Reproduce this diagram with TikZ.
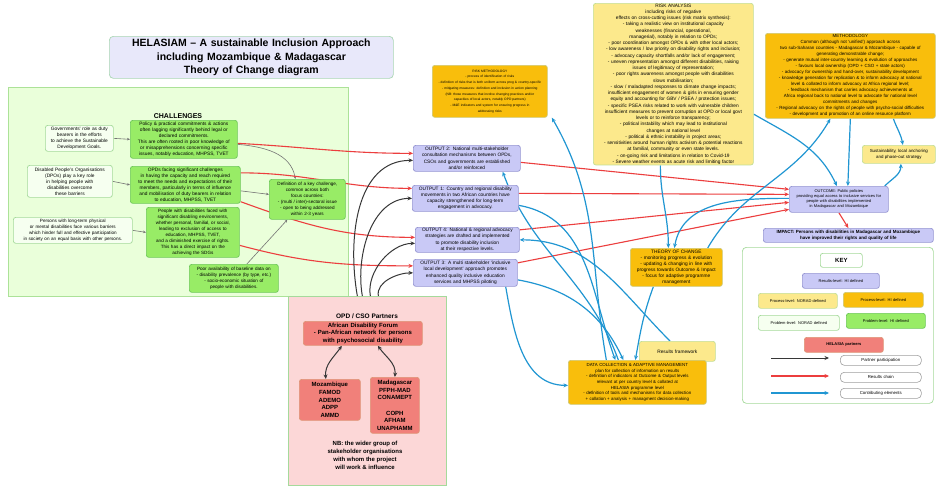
\documentclass[tikz,border=0pt]{standalone}
\usepackage{fontspec}
\setmainfont{Liberation Sans}
\usetikzlibrary{arrows.meta,calc}
\pgfdeclarelayer{bglayer}
\pgfdeclarelayer{lines}
\pgfsetlayers{bglayer,lines,main}
\definecolor{lavF}{RGB}{201,201,246}
\definecolor{lavD}{RGB}{150,150,210}
\definecolor{orgF}{RGB}{249,190,12}
\definecolor{orgD}{RGB}{205,200,120}
\definecolor{ylwF}{RGB}{252,233,140}
\definecolor{ylwD}{RGB}{195,222,150}
\definecolor{grnF}{RGB}{152,236,102}
\definecolor{grnD}{RGB}{110,200,90}
\definecolor{whtF}{RGB}{246,255,240}
\definecolor{whtD}{RGB}{165,218,155}
\definecolor{chF}{RGB}{234,255,218}
\definecolor{chD}{RGB}{172,226,152}
\definecolor{pkF}{RGB}{252,215,215}
\definecolor{redF}{RGB}{241,128,122}
\definecolor{redD}{RGB}{222,150,120}
\definecolor{ttlF}{RGB}{232,232,250}
\definecolor{ttlD}{RGB}{170,215,180}
\definecolor{redC}{RGB}{236,62,62}
\definecolor{bluC}{RGB}{32,150,210}
\definecolor{blkC}{RGB}{55,55,55}
\definecolor{gryC}{RGB}{115,115,115}
\newcommand\fs[2]{\fontsize{#1}{#2}\selectfont}
\newcommand\bx[7]{%
  \pgfmathsetmacro\bxw{#4-#2}%
  \pgfmathsetmacro\bxh{#5-#3}%
  \pgfmathsetmacro\bxt{#4-#2-3}%
  \node[#6,anchor=north west,minimum width=\bxw pt,minimum height=\bxh pt,text width=\bxt pt,inner xsep=1.5pt,inner ysep=0.5pt,align=center] (#1) at (#2,#3) {#7};}
\tikzset{
  base/.style={draw,rounded corners=2.5pt,line width=0.7pt},
  lav/.style={base,fill=lavF,draw=lavD},
  org/.style={base,fill=orgF,draw=orgD},
  ylw/.style={base,fill=ylwF,draw=ylwD},
  grn/.style={base,fill=grnF,draw=grnD},
  wht/.style={base,fill=whtF,draw=whtD},
  rbx/.style={base,fill=redF,draw=redD},
  ttl/.style={base,fill=ttlF,draw=ttlD,rounded corners=4pt},
  pill/.style={draw=gray!75,fill=white,line width=0.6pt,rounded corners=4pt},
  tip/.style={-{Stealth[length=4.5pt,width=4pt]}},
  redc/.style={draw=redC,line width=1.1pt,tip},
  bluec/.style={draw=bluC,line width=1.2pt,tip},
  blkc/.style={draw=blkC,line width=1pt,tip},
  dblc/.style={draw=blkC,line width=1pt,{Stealth[length=4.5pt,width=4pt]}-{Stealth[length=4.5pt,width=4pt]}},
  gryc/.style={draw=gryC,line width=0.6pt,-{Stealth[length=3pt,width=2.5pt]}},
}
\begin{document}
\begin{tikzpicture}[x=1pt,y=-1pt]
\useasboundingbox (0,0) rectangle (937,488);
% backgrounds
\begin{pgfonlayer}{bglayer}
\fill[white] (0,0) rectangle (937,488);
\node[draw=chD,fill=chF,line width=0.7pt,anchor=north west,minimum width=340pt,minimum height=209pt] (chbg) at (8,87) {};
\node[draw=whtD,fill=pkF,line width=0.7pt,anchor=north west,minimum width=158pt,minimum height=189pt] (opd) at (288,296) {};
\node[draw=whtD,fill=white,line width=0.7pt,rounded corners=4pt,anchor=north west,minimum width=191pt,minimum height=156pt] (key) at (742,247) {};
\end{pgfonlayer}

% title
\bx{title}{109}{36}{393}{78}{ttl,font=\bfseries\fs{10.5}{13.5}}{HELASIAM -- A sustainable Inclusion Approach\\including Mozambique \& Madagascar\\Theory of Change diagram}

% challenges
\node[font=\bfseries\fs{7}{8}] (chl) at (178,116) {CHALLENGES};
\bx{gov}{45}{125}{113}{151}{wht,font=\fs{4.8}{6}}{Governments' role as duty\\bearers in the efforts\\to achieve the Sustainable\\Development Goals.}
\bx{dpo}{27}{165}{112}{197}{wht,font=\fs{4.8}{6}}{Disabled People's Organisations\\(DPOs) play a key role\\in helping people with\\disabilities overcome\\these barriers}
\bx{pers}{13}{217}{132}{243}{wht,font=\fs{4.6}{6}}{Persons with long-term physical\\or mental disabilities face various barriers\\which hinder full and effective participation\\in society on an equal basis with other persons.}
\bx{policy}{130}{120}{237}{158}{grn,font=\fs{4.8}{6}}{Policy \& practical commitments \& actions\\often lagging significantly behind legal or\\declared commitments.\\This are often rooted in poor knowledge of\\or misapprehensions concerning specific\\issues, notably education, MHPSS, TVET}
\bx{opds}{130}{166}{240}{203}{grn,font=\fs{4.8}{6}}{OPDs facing significant challenges\\in having the capacity and reach required\\to meet the needs and expectations of their\\members, particularly in terms of influence\\and mobilisation of duty bearers in relation\\to education, MHPSS, TVET}
\bx{people}{146}{207}{239}{257}{grn,font=\fs{4.6}{6}}{People with disabilities faced with\\significant disabling environments,\\whether personal, familial, or social,\\leading to exclusion of access to\\education, MHPSS, TVET,\\and a diminished exercise of rights.\\This has a direct impact on the\\achieving the SDGs}
\bx{poor}{189}{264}{278}{292}{grn,font=\fs{4.6}{6}}{Poor availability of baseline data on\\- disability prevalence (by type, etc.)\\- socio-economic situation of\\people with disabilities.}
\bx{defn}{269}{179}{345}{219}{grn,font=\fs{4.6}{6}}{Definition of a key challenge,\\common across both\\focus countries:\\- (multi / inter)-sectoral issue\\- open to being addressed\\within 2-3 years}

% outputs
\bx{O2}{413}{145}{520}{171}{lav,font=\fs{4.8}{6.2}}{OUTPUT 2: National multi-stakeholder\\consultation mechanisms between OPDs,\\CSOs and governments are established\\and/or reinforced}
\bx{O1}{412}{185}{518}{211}{lav,font=\fs{4.8}{6.2}}{OUTPUT 1: Country and regional disability\\movements in two African countries have\\capacity strengthened for long-term\\engagement in advocacy.}
\bx{O4}{415}{227}{519}{252}{lav,font=\fs{4.8}{6.2}}{OUTPUT 4: National \& regional advocacy\\strategies are drafted and implemented\\to promote disability inclusion\\at their respective levels.}
\bx{O3}{413}{259}{517}{286}{lav,font=\fs{4.8}{6.2}}{OUTPUT 3: A multi stakeholder `inclusive\\local development' approach promotes\\enhanced quality inclusive education\\services and MHPSS piloting}

% OPD partners
\node[font=\bfseries\fs{6.5}{8}] (opdl) at (367,316) {OPD / CSO Partners};
\bx{adf}{303}{321}{422}{345}{rbx,font=\bfseries\fs{6}{7.5}}{African Disability Forum\\- Pan-African network for persons\\with psychosocial disability}
\bx{moz}{299}{379}{360}{420}{rbx,font=\bfseries\fs{6}{7.7}}{Mozambique\\FAMOD\\ADEMO\\ADPP\\AMMD}
\bx{mad}{370}{377}{419}{433}{rbx,font=\bfseries\fs{6}{7.7}}{Madagascar\\PFPH-MAD\\CONAMEPT\\[7.7pt]COPH\\AFHAM\\UNAPHAMM}
\node[font=\bfseries\fs{6}{8},align=center] (nb) at (365,455) {NB: the wider group of\\stakeholder organisations\\with whom the project\\will work \& influence};

% process boxes
\bx{RM}{432}{65}{547}{117}{org,font=\fs{3.3}{5.7}}{RISK METHODOLOGY\\- process of identification of risks\\- definition of risks that is both uniform across prog \& country-specific\\- mitigating measures: definition and inclusion in action planning\\(NB: those measures that involve changing practices and/or\\capacities of local actors, notably OPD partners)\\- M\&E indicators and system for ensuring progress in\\addressing risks}
\bx{RA}{593}{3}{753}{162}{ylw,font=\fs{4.8}{6.25}}{RISK ANALYSIS\\including risks of negative\\effects on cross-cutting issues (risk matrix synthesis):\\- taking a realistic view on institutional capacity\\weaknesses (financial, operational,\\managerial), notably in relation to OPDs;\\- poor coordination amongst OPDs \& with other local actors;\\- low awareness / low priority on disability rights and inclusion;\\- advocacy capacity shortfalls and/or lack of engagement;\\- uneven representation amongst different disabilities, raising\\issues of legitimacy of representation;\\- poor rights awareness amongst people with disabilities\\slows mobilisation;\\- slow / maladapted responses to climate change impacts;\\insufficient engagement of women \& girls in ensuring gender\\equity and accounting for GBV / PSEA / protection issues;\\- specific PSEA risks related to work with vulnerable children\\insufficient measures to prevent corruption at OPD or local govt\\levels or to reinforce transparency;\\- political instability which may lead to institutional\\changes at national level\\- political \& ethnic instability in project areas;\\- sensitivities around human rights activism \& potential reactions\\at familial, community or even state levels.\\- on-going risk and limitations in relation to Covid-19\\- Severe weather events as acute risk and limiting factor}
\bx{meth}{765}{33}{935}{118}{org,font=\fs{4.5}{6}}{METHODOLOGY\\Common (although not `unified') approach across\\two sub-Saharan countries - Madagascar \& Mozambique - capable of\\generating demonstrable change;\\- generate mutual inter-country learning \& evolution of approaches\\- favours local ownership (OPD + CSO + state actors)\\- advocacy for ownership and hand-over, sustainability development\\- knowledge generation for replication \& to inform advocacy at national\\level \& collated to inform advocacy at Africa regional level;\\- feedback mechanism that carries advocacy achievements at\\Africa regional back to national level to advocate for national level\\commitments and changes\\- Regional advocacy on the rights of people with psycho-social difficulties\\- development and promotion of an online resource platform}
\bx{sust}{862}{145}{935}{163}{ylw,font=\fs{4.4}{5.8}}{Sustainability, local anchoring\\and phase-out strategy}
\bx{outcome}{789}{186}{888}{212}{lav,font=\fs{4}{5}}{OUTCOME: Public policies\\providing equal access to inclusive services for\\people with disabilities implemented\\in Madagascar and Mozambique}
\bx{impact}{763}{228}{933}{242}{lav,font=\bfseries\fs{4.5}{5.8}}{IMPACT: Persons with disabilities in Madagascar and Mozambique\\have improved their rights and quality of life}
\bx{ToC}{630}{248}{722}{286}{org,font=\fs{4.8}{6}}{THEORY OF CHANGE\\- monitoring progress \& evolution\\- updating \& changing in line with\\progress towards Outcome \& Impact\\- focus for adaptive programme\\management}
\bx{RF}{639}{341}{715}{361}{ylw,font=\fs{4.8}{6}}{Results framework}
\bx{DC}{568}{360}{706}{404}{org,font=\fs{4.4}{5.6}}{DATA COLLECTION \& ADAPTIVE MANAGEMENT\\plan for collection of information on results\\- definition of indicators at Outcome \& Output levels\\relevant at per country level \& collated at\\HELASIA programme level\\- definition of tools and mechanisms for data collection\\+ collation + analysis + managment decision-making}

% key
\bx{keyt}{820}{253}{862}{267}{wht,fill=white,font=\bfseries\fs{6}{7}}{KEY}
\bx{k1}{802}{273}{879}{288}{lav,font=\fs{4}{5}}{Results-level: HI defined}
\bx{k2}{758}{293}{837}{308}{ylw,font=\fs{4}{5}}{Process-level: NORAD defined}
\bx{k3}{843}{292}{923}{307}{org,font=\fs{4}{5}}{Process-level: HI defined}
\bx{k4}{758}{315}{839}{330}{wht,font=\fs{4}{5}}{Problem-level: NORAD defined}
\bx{k5}{846}{313}{925}{328}{grn,font=\fs{4}{5}}{Problem-level: HI defined}
\bx{k6}{804}{337}{883}{352}{rbx,font=\bfseries\fs{4}{5}}{HELASIA partners}
\bx{l1}{840}{355}{921}{365}{pill,font=\fs{4.3}{5}}{Partner participation}
\bx{l2}{840}{372}{921}{382}{pill,font=\fs{4.3}{5}}{Results chain}
\bx{l3}{840}{388}{921}{398}{pill,font=\fs{4.3}{5}}{Contributing elements}
\coordinate (a1) at (771,358); \coordinate (b1) at (829,358);
\coordinate (a2) at (771,376); \coordinate (b2) at (829,376);
\coordinate (a3) at (771,393); \coordinate (b3) at (829,393);

\begin{pgfonlayer}{lines}
% legend arrows
\draw[blkc] (a1) -- (b1);
\draw[redc] (a2) -- (b2);
\draw[bluec] (a3) -- (b3);
% challenges grey
\draw[gryc] (gov.east) -- (policy.west);
\draw[gryc] (dpo.east) -- (opds.west);
\draw[gryc] (pers.east) -- (people.west);
\draw[gryc] ($(policy.east)+(0,5)$) to[out=-5,in=100] ($(defn.north)+(-12,0)$);
\draw[gryc] ($(opds.east)+(0,6)$) -- ($(defn.west)+(0,-5)$);
\draw[gryc] ($(poor.north)+(13,0)$) -- ($(defn.south)+(-20,0)$);
% challenges red to outputs
\draw[redc] ($(policy.east)+(0,4)$) to[out=-3,in=180] ($(O2.west)+(0,-5)$);
\draw[redc] ($(opds.east)+(0,-12)$) to[out=0,in=180] ($(O1.west)+(0,-10)$);
\draw[redc] ($(opds.south east)+(0,-2)$) to[out=-20,in=180] ($(O4.west)+(0,-2.5)$);
\draw[redc] ($(people.east)+(0,13)$) to[out=-15,in=180] ($(O3.west)+(0,-7)$);
% outputs to outcome
\draw[redc] ($(O2.east)+(0,4)$) -- ($(outcome.west)+(0,-10)$);
\draw[redc] ($(O1.east)+(0,-5)$) -- ($(outcome.west)+(0,-5)$);
\draw[redc] ($(O4.east)+(0,-10)$) -- ($(outcome.west)+(0,3)$);
\draw[redc] ($(O3.east)+(0,-10)$) -- ($(outcome.west)+(0,10)$);
\draw[redc] (outcome.south) -- (impact.north);
% partners black
\draw[blkc] ($(opd.north)+(-10,0)$) to[out=100,in=180,looseness=1] ($(O2.west)+(0,2)$);
\draw[blkc] ($(opd.north)+(-5,0)$) to[out=100,in=180,looseness=0.95] ($(O1.west)+(0,0)$);
\draw[blkc] ($(opd.north)+(3,0)$) to[out=100,in=180,looseness=0.9] ($(O4.west)+(0,3.5)$);
\draw[blkc] ($(opd.north)+(11,0)$) to[out=100,in=180,looseness=0.9] ($(O3.west)+(0,0)$);
\draw[dblc] ($(adf.south)+(-21,0)$) to[out=-125,in=95] ($(moz.north)+(-4,0)$);
\draw[dblc] ($(adf.south)+(15,0)$) to[out=-55,in=85] ($(mad.north)+(0,0)$);
% contributing blue
\draw[bluec] ($(RA.south)+(-13,0)$) to[out=-90,in=90] ($(ToC.north)+(-8,0)$);
\draw[bluec] ($(outcome.west)+(0,-1)$) to[out=180,in=80] ($(ToC.north)+(-2,0)$);
\draw[bluec] (meth.south) -- ($(outcome.north)+(9,0)$);
\draw[bluec] ($(RA.east)+(0,30)$) to[out=-30,in=115] ($(outcome.north)+(-2,0)$);
\draw[bluec] ($(outcome.north east)+(-4,0)$) to[out=45,in=-90] ($(sust.south)+(2,0)$);
\draw[bluec] ($(meth.south)+(43,0)$) to[out=-70,in=100] ($(sust.north)+(4,0)$);
\draw[bluec] ($(ToC.north east)+(-15,0)$) to[out=60,in=-120] ($(meth.south)+(-20,0)$);
\draw[bluec] ($(DC.north)+(-31,0)$) to[out=100,in=-60] ($(RM.south)+(62,0)$);
\draw[bluec] ($(DC.north)+(-19,0)$) to[out=110,in=-70] ($(O2.south east)+(-18,0)$);
\draw[bluec] ($(RF.north west)+(31,0)$) to[out=135,in=0] (O4.east);
\draw[bluec] ($(O1.east)+(0,7)$) to[out=-10,in=110] ($(DC.north)+(-22,0)$);
\draw[bluec] ($(O3.east)+(0,7)$) to[out=-10,in=115] ($(DC.north)+(-14,0)$);
\draw[bluec] ($(ToC.south)+(-23,0)$) to[out=-110,in=80] ($(DC.north)+(-2,0)$);
\draw[bluec] ($(O3.south east)+(-12,0)$) to[out=-80,in=180] ($(DC.west)+(0,3)$);
\end{pgfonlayer}
\end{tikzpicture}
\end{document}
